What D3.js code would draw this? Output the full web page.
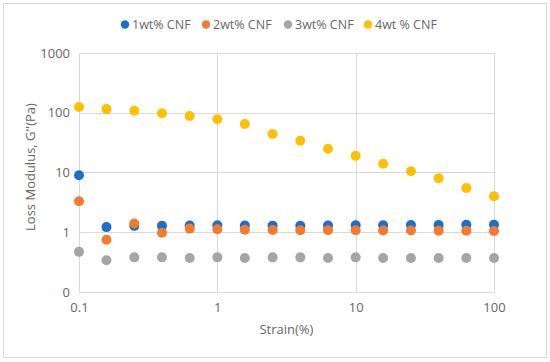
<!DOCTYPE html>
<html>
  <head>
    <meta charset="utf-8">
    <title>Loss modulus vs strain</title>
    <script src="https://d3js.org/d3.v7.min.js"></script>
    <style>
      body { margin: 0; background: #fff; }
      text { font-family: "Open Sans", "Liberation Sans", sans-serif; fill: #666; }
    </style>
  </head>
  <body>
    <svg id="chart" width="550" height="362"></svg>
    <script>
      // data
      strain = [0.1, 0.158, 0.251, 0.398, 0.631, 1, 1.58, 2.51, 3.98, 6.31, 10, 15.8, 25.1, 39.8, 63.1, 100];
      seriesNames = ["1wt% CNF", "2wt% CNF", "3wt% CNF", "4wt % CNF"];
      seriesColours = ["#1a6fcd", "#f47b2e", "#a5a5a5", "#ffc000"];
      cnf1 = [9, 1.22, 1.28, 1.28, 1.3, 1.31, 1.3, 1.29, 1.28, 1.3, 1.31, 1.31, 1.32, 1.32, 1.33, 1.33];
      cnf2 = [3.3, 0.75, 1.4, 0.98, 1.15, 1.12, 1.1, 1.09, 1.08, 1.08, 1.08, 1.07, 1.07, 1.06, 1.06, 1.05];
      cnf3 = [0.47, 0.34, 0.38, 0.38, 0.37, 0.38, 0.37, 0.38, 0.38, 0.37, 0.38, 0.37, 0.37, 0.37, 0.37, 0.37];
      cnf4 = [125, 115, 108, 98, 88, 78, 65, 44, 34, 25, 19, 14, 10.5, 8, 5.5, 4];
      xTicks = [0.1, 1, 10, 100];
      yTicks = [0.1, 1, 10, 100, 1000];
      yTickLabels = ["0", "1", "10", "100", "1000"];

      series = [cnf1, cnf2, cnf3, cnf4];
      svg = d3.select("#chart");
      margin = { top: 53, right: 56, bottom: 70, left: 79 };
      width = 550;
      height = 362;

      // outer frame
      svg.append("rect")
        .attr("x", 3.5).attr("y", 3.5)
        .attr("width", 543).attr("height", 354)
        .attr("fill", "#fff")
        .attr("stroke", "#d9d9d9");

      x = d3.scaleLog().domain([0.1, 100]).range([margin.left, width - margin.right]);
      y = d3.scaleLog().domain([0.1, 1000]).range([height - margin.bottom, margin.top]);

      // grid
      grid = svg.append("g");
      grid.selectAll(".hgrid")
        .data(yTicks)
        .join("line")
          .attr("x1", x(0.1)).attr("x2", x(100))
          .attr("y1", d => Math.round(y(d)) + 0.5).attr("y2", d => Math.round(y(d)) + 0.5)
          .attr("stroke", "#d9d9d9");
      grid.selectAll(".vgrid")
        .data(xTicks)
        .join("line")
          .attr("y1", y(0.1)).attr("y2", y(1000))
          .attr("x1", d => Math.round(x(d)) + 0.5).attr("x2", d => Math.round(x(d)) + 0.5)
          .attr("stroke", "#d9d9d9");

      // tick labels via d3 axes
      yAxis = d3.axisLeft(y).tickValues(yTicks)
        .tickFormat((d, i) => yTickLabels[i])
        .tickSize(0).tickPadding(9);
      svg.append("g")
        .attr("transform", "translate(" + margin.left + ",0)")
        .call(yAxis)
        .call(g => g.select(".domain").remove())
        .selectAll("text").style("font-size", "13px").attr("fill", "#666");

      xAxis = d3.axisBottom(x).tickValues(xTicks)
        .tickFormat(d => String(d))
        .tickSize(0).tickPadding(11);
      svg.append("g")
        .attr("transform", "translate(0," + (height - margin.bottom) + ")")
        .call(xAxis)
        .call(g => g.select(".domain").remove())
        .selectAll("text").style("font-size", "13px").attr("fill", "#666");

      svg.selectAll(".tick text").style("font-family", "'Open Sans', 'Liberation Sans', sans-serif");

      // axis titles
      svg.append("text")
        .attr("x", x(3.16)).attr("y", 334)
        .attr("text-anchor", "middle")
        .style("font-size", "13px")
        .text("Strain(%)");
      svg.append("text")
        .attr("transform", "translate(35,167) rotate(-90)")
        .attr("text-anchor", "middle")
        .style("font-size", "13px")
        .text("Loss Modulus, G''(Pa)");

      // points
      series.forEach(function(values, i) {
        svg.append("g").selectAll("circle")
          .data(values)
          .join("circle")
            .attr("cx", (d, j) => x(strain[j]))
            .attr("cy", d => y(d))
            .attr("r", 5)
            .attr("fill", seriesColours[i]);
      });

      // legend
      legendX = [125, 206, 288, 368];
      legend = svg.append("g");
      seriesNames.forEach(function(name, i) {
        legend.append("circle")
          .attr("cx", legendX[i]).attr("cy", 24.5)
          .attr("r", 4.2)
          .attr("fill", seriesColours[i]);
        legend.append("text")
          .attr("x", legendX[i] + 7).attr("y", 29)
          .style("font-size", "12.5px")
          .text(name);
      });
    </script>
  </body>
</html>
